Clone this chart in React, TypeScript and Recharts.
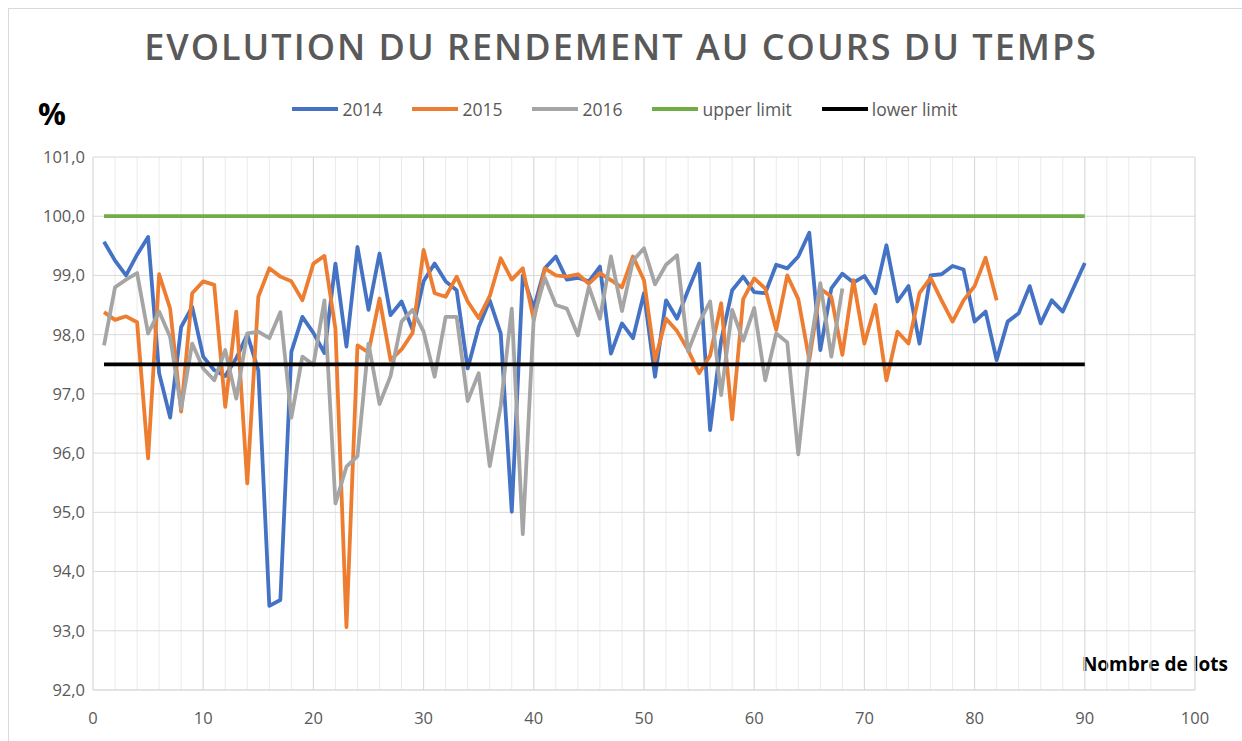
import React from "react";
import { CartesianGrid, Line, LineChart, XAxis, YAxis } from "recharts";

const y2014 = [
  99.57, 99.25, 99.0, 99.35, 99.65, 97.35, 96.6, 98.13, 98.47, 97.63,
  97.4, 97.3, 97.6, 98.0, 97.4, 93.42, 93.52, 97.71, 98.3, 98.03,
  97.69, 99.2, 97.8, 99.48, 98.42, 99.37, 98.33, 98.56, 98.08, 98.9,
  99.2, 98.9, 98.75, 97.43, 98.13, 98.58, 98.02, 95.01, 99.0, 98.45,
  99.12, 99.32, 98.93, 98.96, 98.9, 99.15, 97.68, 98.19, 97.94, 98.7,
  97.29, 98.58, 98.27, 98.75, 99.2, 96.39, 97.9, 98.75, 98.98, 98.72,
  98.7, 99.18, 99.12, 99.32, 99.72, 97.74, 98.78, 99.03, 98.88, 98.99,
  98.7, 99.51, 98.56, 98.82, 97.85, 99.0, 99.02, 99.16, 99.1, 98.22,
  98.39, 97.57, 98.22, 98.36, 98.82, 98.19, 98.58, 98.39, 98.8, 99.21,
];

const y2015 = [
  98.38, 98.25, 98.31, 98.21, 95.91, 99.02, 98.44, 96.7, 98.7, 98.9,
  98.84, 96.78, 98.39, 95.49, 98.64, 99.12, 98.98, 98.9, 98.58, 99.2,
  99.33, 98.1, 93.06, 97.82, 97.7, 98.61, 97.57, 97.75, 98.03, 99.43,
  98.7, 98.64, 98.98, 98.56, 98.28, 98.65, 99.29, 98.93, 99.12, 98.25,
  99.12, 99.0, 98.98, 99.02, 98.86, 99.04, 98.92, 98.8, 99.32, 98.92,
  97.57, 98.27, 98.06, 97.74, 97.35, 97.65, 98.53, 96.57, 98.6, 98.95,
  98.78, 98.08, 99.0, 98.6, 97.57, 98.78, 98.64, 97.66, 98.92, 97.85,
  98.5, 97.23, 98.05, 97.85, 98.7, 98.96, 98.58, 98.22, 98.58, 98.82,
  99.3, 98.58,
];

const y2016 = [
  97.82, 98.8, 98.93, 99.04, 98.02, 98.39, 97.96, 96.75, 97.85, 97.43,
  97.23, 97.74, 96.92, 98.02, 98.05, 97.94, 98.38, 96.6, 97.63, 97.49,
  98.58, 95.15, 95.77, 95.95, 97.85, 96.83, 97.3, 98.22, 98.42, 98.05,
  97.29, 98.3, 98.3, 96.88, 97.35, 95.78, 96.8, 98.44, 94.63, 98.3,
  98.96, 98.5, 98.44, 97.99, 98.81, 98.27, 99.32, 98.4, 99.25, 99.46,
  98.85, 99.18, 99.34, 97.72, 98.2, 98.56, 96.98, 98.42, 97.9, 98.45,
  97.23, 98.02, 97.87, 95.98, 97.7, 98.87, 97.63, 98.78,
];

const upperLimit = 100;
const lowerLimit = 97.5;

const xTicks = [0, 10, 20, 30, 40, 50, 60, 70, 80, 90, 100];
const xMinorTicks = [0, 2, 4, 6, 8, 10, 12, 14, 16, 18, 20, 22, 24, 26, 28, 30, 32, 34, 36, 38, 40, 42, 44, 46, 48, 50, 52, 54, 56, 58, 60, 62, 64, 66, 68, 70, 72, 74, 76, 78, 80, 82, 84, 86, 88, 90, 92, 94, 96, 98, 100];
const yTicks = [92, 93, 94, 95, 96, 97, 98, 99, 100, 101];

const series = [
  { key: "y2014", name: "2014", color: "#4472C4" },
  { key: "y2015", name: "2015", color: "#ED7D31" },
  { key: "y2016", name: "2016", color: "#A5A5A5" },
  { key: "upper", name: "upper limit", color: "#70AD47" },
  { key: "lower", name: "lower limit", color: "#000000" },
];

const data = y2014.map((v, i) => ({
  lot: i + 1,
  y2014: v,
  y2015: i < y2015.length ? y2015[i] : null,
  y2016: i < y2016.length ? y2016[i] : null,
  upper: upperLimit,
  lower: lowerLimit,
}));

const font = "'Open Sans', 'Noto Sans', sans-serif";
const grey = "#595959";

export default function App() {
  return (
    <div
      style={{
        position: "absolute",
        left: 0,
        top: 0,
        width: 1242,
        height: 741,
        overflow: "hidden",
        background: "#fff",
        fontFamily: font,
      }}
    >
      <div
        style={{
          position: "absolute",
          left: 8,
          top: 8,
          width: 1260,
          height: 760,
          border: "1px solid #D9D9D9",
        }}
      />
      <div
        style={{
          position: "absolute",
          top: 22,
          left: 0,
          width: 1242,
          textAlign: "center",
          fontSize: 36,
          fontWeight: 600,
          letterSpacing: 2,
          color: grey,
        }}
      >
        EVOLUTION DU RENDEMENT AU COURS DU TEMPS
      </div>
      <div
        style={{
          position: "absolute",
          left: 38,
          top: 92,
          fontSize: 31,
          fontWeight: 700,
          color: "#000",
        }}
      >
        %
      </div>
      <div
        style={{
          position: "absolute",
          top: 97,
          left: 0,
          width: 1242,
          display: "flex",
          justifyContent: "center",
          gap: 30,
          paddingLeft: 8,
          boxSizing: "border-box",
        }}
      >
        {series.map((s) => (
          <div key={s.key} style={{ display: "flex", alignItems: "center", gap: 4 }}>
            <span style={{ display: "inline-block", width: 46, height: 4, background: s.color }} />
            <span style={{ fontSize: 17.5, color: grey }}>{s.name}</span>
          </div>
        ))}
      </div>
      <div
        style={{
          position: "absolute",
          right: 14,
          top: 651,
          fontSize: 19,
          fontWeight: 700,
          color: "#000",
        }}
      >
        Nombre de lots
      </div>
      <LineChart
        width={1242}
        height={741}
        data={data}
        margin={{ top: 157, right: 47, bottom: 21, left: 0 }}
        style={{ position: "absolute", left: 0, top: 0 }}
      >
        <XAxis
          xAxisId="minor"
          dataKey="lot"
          type="number"
          domain={[0, 100]}
          ticks={xMinorTicks}
          hide
        />
        <CartesianGrid xAxisId="minor" horizontal={false} stroke="#EBEBEB" strokeWidth={1} />
        <CartesianGrid stroke="#D9D9D9" strokeWidth={1} />
        <XAxis
          dataKey="lot"
          type="number"
          domain={[0, 100]}
          ticks={xTicks}
          interval={0}
          height={30}
          axisLine={{ stroke: "#D9D9D9" }}
          tickLine={false}
          tickMargin={16}
          tick={{ fill: grey, fontSize: 16.5, fontFamily: font }}
        />
        <YAxis
          type="number"
          domain={[92, 101]}
          ticks={yTicks}
          interval={0}
          width={93}
          axisLine={false}
          tickLine={false}
          tickFormatter={(v: number) => v.toFixed(1).replace(".", ",")}
          tick={{ fill: grey, fontSize: 16.5, fontFamily: font }}
        />
        {series.map((s) => (
          <Line
            key={s.key}
            dataKey={s.key}
            name={s.name}
            stroke={s.color}
            strokeWidth={3.8}
            dot={false}
            activeDot={false}
            isAnimationActive={false}
            strokeLinejoin="round"
          />
        ))}
      </LineChart>
    </div>
  );
}
